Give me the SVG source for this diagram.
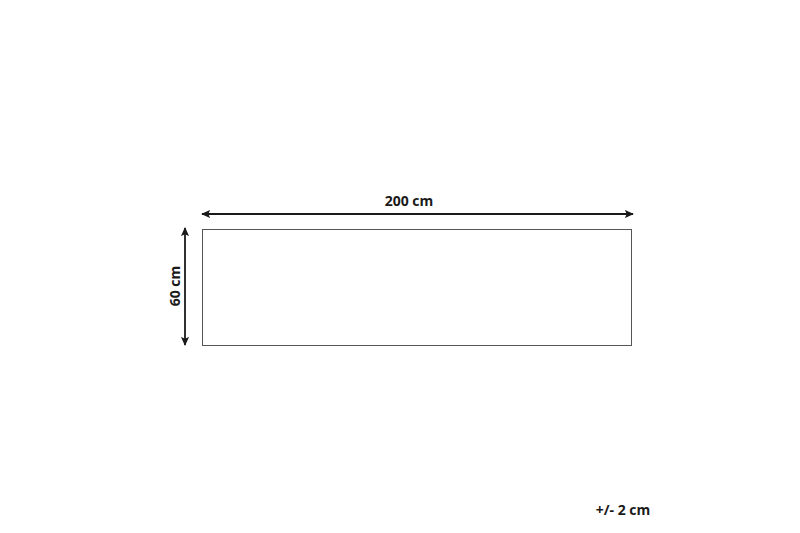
<svg xmlns="http://www.w3.org/2000/svg" width="800" height="533" viewBox="0 0 800 533">
<style>
.lbl{font-family:"Open Sans","Liberation Sans",sans-serif;font-weight:bold;font-size:14px;fill:#1a1a1a}
.dim{stroke:#1a1a1a;stroke-width:1.8;fill:none}
</style>
<defs>
<marker id="ah" viewBox="0 0 10 10" refX="9" refY="5" markerWidth="9" markerHeight="9" orient="auto-start-reverse" markerUnits="userSpaceOnUse">
<path d="M0,0.5 L10,5 L0,9.5 L2,5 Z" fill="#1a1a1a"/>
</marker>
</defs>
<rect width="800" height="533" fill="#fff"/>
<g id="rug">
<rect x="202.5" y="229.5" width="429" height="116" fill="#fff" stroke="#555" stroke-width="1"/>
</g>
<g id="connectors">
<line class="dim" x1="202" y1="214" x2="633" y2="214" marker-start="url(#ah)" marker-end="url(#ah)"/>
<line class="dim" x1="185" y1="228" x2="185" y2="345" marker-start="url(#ah)" marker-end="url(#ah)"/>
</g>
<g id="labels">
<text class="lbl" x="409" y="206" text-anchor="middle">200 cm</text>
<text class="lbl" transform="translate(180,286) rotate(-90)" text-anchor="middle">60 cm</text>
<text class="lbl" x="623" y="515" text-anchor="middle">+/- 2 cm</text>
</g>
</svg>
